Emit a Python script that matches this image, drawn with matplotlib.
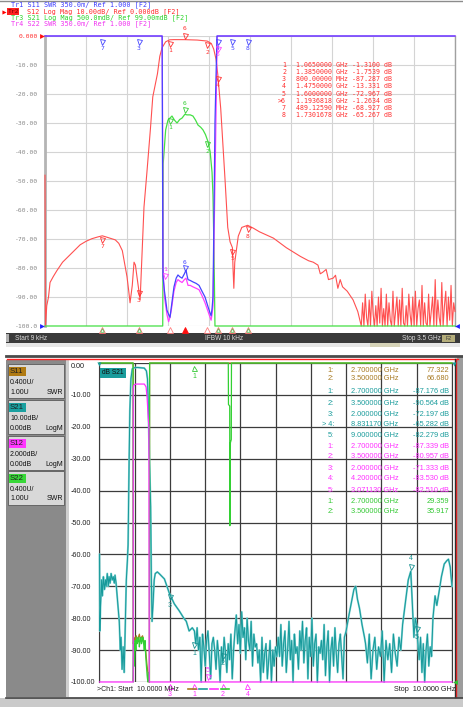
import numpy as np
import matplotlib
matplotlib.use("Agg")
import matplotlib.pyplot as plt
from matplotlib.patches import Rectangle
from matplotlib.transforms import offset_copy

W, H = 464, 707
MONO = "DejaVu Sans Mono"
SANS = "Liberation Sans"

# ======================= TOP ANALYZER DATA =======================
top_start, top_stop = 0.000009, 3.5  # GHz
top_header = [
    ("Tr1 S11 SWR 350.0m/ Ref 1.000 [F2]", "#3c3cff"),
    ("S12 Log Mag 10.00dB/ Ref 0.000dB [F2]", "#ff2a2a"),
    ("Tr3 S21 Log Mag 500.0mdB/ Ref 99.00mdB [F2]", "#2ad42a"),
    ("Tr4 S22 SWR 350.0m/ Ref 1.000 [F2]", "#f032f0"),
]
top_yticks = [0, -10, -20, -30, -40, -50, -60, -70, -80, -90, -100]
top_ylabels = ["0.000", "-10.00", "-20.00", "-30.00", "-40.00", "-50.00",
               "-60.00", "-70.00", "-80.00", "-90.00", "-100.0"]

s12_top_f = [0.000009, 0.004, 0.015, 0.03, 0.043, 0.07, 0.1, 0.15, 0.2, 0.25, 0.3,
             0.35, 0.4, 0.45, 0.489, 0.53, 0.6, 0.63, 0.66, 0.7, 0.715, 0.726,
             0.745, 0.76, 0.772, 0.785, 0.8, 0.812, 0.83, 0.845, 0.87, 0.9, 0.92,
             0.96, 0.98, 1.0, 1.03, 1.065, 1.1, 1.194, 1.3, 1.385, 1.42, 1.44,
             1.46, 1.475, 1.5, 1.52, 1.537, 1.55, 1.56, 1.58, 1.6, 1.605, 1.612,
             1.62, 1.65, 1.68, 1.73, 1.78, 1.83, 1.95, 2.06, 2.18, 2.25, 2.29,
             2.33, 2.35, 2.37, 2.4, 2.42, 2.46, 2.48, 2.5, 2.52, 2.54, 2.58, 2.63, 2.67]
s12_top_db = [-48, -100, -93, -90, -85, -83, -81, -78, -76, -74, -72,
              -70.8, -69.9, -69.3, -68.9, -69.4, -70.3, -71.5, -74, -83, -88, -92,
              -86, -78, -79, -83, -87.3, -91, -74, -59, -47, -32, -21,
              -13, -7, -4, -2, -1.31, -1.25, -1.26, -1.4, -1.75, -2.6, -4.5,
              -8, -13.3, -25, -38, -49.6, -59, -66, -71, -73, -80, -87,
              -78, -69, -66, -65.27, -66.3, -67.5, -69.7, -73, -76, -77.5, -78,
              -79, -82, -81.5, -80.5, -84, -83.5, -82.5, -87, -84, -86.5, -88, -91, -95]
s12_top_noise_db = [-100, -92, -100, -89, -97, -100, -91, -100, -88, -96, -100, -93,
                    -100, -90, -99, -87, -100, -94, -100, -89, -100, -92, -98, -100,
                    -88, -100, -95, -90, -100, -91, -100, -87, -99, -100, -93, -100,
                    -89, -96, -100, -90, -100, -88, -100, -94, -91, -100, -86, -100,
                    -92, -99, -100, -89, -100, -95, -90, -100, -84, -100, -91, -97,
                    -100, -85, -100, -93, -88, -100, -90, -98, -86, -100, -92, -95]

s21_top_f = [0.000009, 1.005, 1.007, 1.009, 1.03, 1.05, 1.084, 1.105, 1.127, 1.15,
             1.17, 1.194, 1.212, 1.24, 1.263, 1.285, 1.306, 1.33, 1.349, 1.37,
             1.392, 1.41, 1.426, 1.434, 1.443, 1.451, 3.5]
s21_top_db = [-100, -100, -80, -44, -32.4, -29, -27.6, -29, -30, -28.8,
              -28.3, -27, -27.2, -27.2, -27.6, -29, -30.7, -31.5, -32.4, -34,
              -36.5, -40, -47, -55, -75, -100, -100]

s11_top_f = [0.000009, 1.0, 1.003, 1.007, 1.02, 1.03, 1.041, 1.055, 1.067, 1.08,
             1.101, 1.12, 1.135, 1.15, 1.17, 1.19, 1.204, 1.212, 1.221, 1.24,
             1.263, 1.29, 1.315, 1.34, 1.366, 1.392, 1.409, 1.418, 1.426, 1.434,
             1.443, 1.451, 1.468, 3.5]
s11_top_db = [0, 0, -40, -83, -88, -91, -94.5, -96, -97, -93,
              -86.5, -83.5, -82.4, -83, -83.5, -82, -80.7, -82.5, -84, -84.3,
              -84.8, -85.3, -86, -88, -90, -93.4, -95.5, -96.5, -94, -90,
              -60, -30, 0, 0]

s22_top_f = [0.000009, 1.0, 1.004, 1.007, 1.02, 1.041, 1.055, 1.067, 1.08, 1.101,
             1.12, 1.135, 1.15, 1.17, 1.19, 1.204, 1.221, 1.24, 1.263, 1.29,
             1.315, 1.34, 1.366, 1.392, 1.409, 1.418, 1.426, 1.434, 1.443, 1.455,
             1.47, 3.5]
s22_top_db = [0, 0, -30, -80, -90, -96, -98.5, -97, -94, -88,
              -85, -84, -84.5, -85, -84, -83.5, -86, -86, -86.5, -87,
              -87.5, -89.5, -92, -95, -97, -98, -96, -93, -70, -40,
              0, 0]

top_mk_no = ["1", "2", "3", "4", "5", ">6", "7", "8"]
top_mk_f = [1.065, 1.385, 0.8, 1.475, 1.6, 1.1936818, 0.4891259, 1.7301678]
top_mk_db = [-1.31, -1.7539, -87.287, -13.331, -72.967, -1.2634, -68.927, -65.267]
top_mk_text = ["1.0650000 GHz -1.3100 dB", "1.3850000 GHz -1.7539 dB",
               "800.00000 MHz -87.287 dB", "1.4750000 GHz -13.331 dB",
               "1.6000000 GHz -72.967 dB", "1.1936818 GHz -1.2634 dB",
               "489.12590 MHz -68.927 dB", "1.7301678 GHz -65.267 dB"]

# ======================= BOTTOM ANALYZER DATA =======================
bot_start, bot_stop = 0.01, 10.0  # GHz
bot_yticks = [0, -10, -20, -30, -40, -50, -60, -70, -80, -90, -100]
bot_ylabels = ["0.00", "-10.00", "-20.00", "-30.00", "-40.00", "-50.00",
               "-60.00", "-70.00", "-80.00", "-90.00", "-100.00"]

s21_bot_f1 = [0.01, 0.02, 0.04, 0.07, 0.09, 0.12, 0.15, 0.18, 0.2, 0.23, 0.26, 0.28,
              0.31, 0.34, 0.37, 0.4, 0.43, 0.45, 0.48, 0.51, 0.54, 0.57, 0.6, 0.62,
              0.65, 0.68, 0.71, 0.74, 0.77, 0.8, 0.82, 0.85, 0.87, 0.9, 0.94, 0.99,
              1.08, 1.19, 1.28, 1.34, 1.37, 1.39, 1.42, 1.46, 1.48, 1.5, 1.53, 1.56,
              1.59, 1.65, 1.7, 1.85, 1.99, 2.13, 2.27, 2.4, 2.47, 2.55, 2.64]
s21_bot_db1 = [-60, -84, -76, -68, -73, -67, -71, -68, -70, -66, -70, -67,
               -69, -66, -68, -67, -69, -66.5, -69, -73, -77, -81, -90, -86,
               -96, -89, -97, -82, -68, -62, -57, -30, -15, -5, -1.8, -1.5,
               -1.4, -1.5, -1.6, -2.5, -5, -12, -28, -45, -68, -81, -75, -68,
               -66, -65.5, -66, -67.7, -72.2, -75.5, -77.7, -80, -81, -84, -83]
s21_bot_noise1 = [-84, -88, -83, -90, -86, -100, -85, -89, -95, -87, -84, -91, -99, -88, -86,
                  -90, -96, -87, -92, -100, -89, -94, -86, -91, -97, -88, -93, -85, -99, -90,
                  -84, -79, -88, -82, -91, -78, -86, -83, -93, -80, -87, -90, -81, -95, -85, -89,
                  -88, -94, -90, -100, -86, -97, -91, -88, -99, -93, -87, -100, -90, -95, -89, -92,
                  -86, -92, -82, -95, -88, -84, -97, -90, -81, -93, -87, -100, -85, -91, -89, -96,
                  -84, -90, -81, -94, -87, -83, -99, -86, -92, -80, -95, -88, -85, -100, -89, -91,
                  -87, -93, -82, -98, -89, -84, -100, -90, -86, -95, -83, -91, -97, -88, -85, -92, -99, -86]
s21_bot_f2 = [7.0, 7.08, 7.15, 7.22, 7.27, 7.32, 7.38, 7.45, 7.52]
s21_bot_db2 = [-84, -79, -75, -71, -70, -74, -77, -82, -86]
s21_bot_noise2 = [-88, -94, -85, -99, -90, -86, -96, -89, -92, -84,
                  -100, -87, -93, -88, -97, -85, -91, -95, -86, -90]
s21_bot_f3 = [8.6, 8.68, 8.76, 8.83117, 8.87, 8.92, 8.96, 9.0, 9.04]
s21_bot_db3 = [-82, -75, -68, -65.282, -74, -86, -80, -82.279, -89]
s21_bot_noise3 = [-93, -86, -97, -88, -100, -90, -85, -95, -89, -92]
s21_bot_f4 = [9.46, 9.52, 9.57, 9.63, 9.7, 9.78, 9.85, 9.9, 9.95, 10.0]
s21_bot_db4 = [-80, -73, -76, -72, -67, -63, -62, -61.5, -64, -70]

s12_bot_f = [0.01, 0.965, 0.966, 0.98, 1.0, 1.05, 1.28, 1.33, 1.36, 1.39, 1.41, 1.42, 10.0]
s12_bot_db = [-100, -100, -8, -7, -6.8, -6.6, -6.6, -7.5, -11, -17, -20, -100, -100]

s22_bot_f = [0.01, 0.96, 0.965, 0.975, 0.99, 1.0, 1.02, 1.04, 1.06, 1.08, 1.1, 1.12, 1.14,
             1.16, 1.18, 1.2, 1.22, 1.24, 1.26, 1.28, 1.3, 1.32, 1.34, 1.36, 1.38, 1.4,
             1.42, 1.425, 1.43, 3.66, 3.665, 3.70, 3.705, 3.72, 3.745, 3.75, 10.0]
s22_bot_db = [0, 0, -100, -92, -88, -95, -87, -90, -86, -88, -87, -86, -89,
              -87, -86, -88, -87, -86, -88, -90, -87, -92, -95, -98, -100, -97,
              -100, -100, 0, 0, -13, -13.5, -51, -25, -24, 0, 0]

s11_bot_f = [0.01, 0.965, 0.967, 0.99, 1.02, 1.05, 1.08, 1.11, 1.14, 1.17, 1.2, 1.23,
             1.26, 1.29, 1.32, 1.35, 1.38, 1.41, 1.425, 1.43, 10.0]
s11_bot_db = [0, 0, -88, -86, -87, -85.5, -86.5, -86, -85, -87, -86, -85.5,
              -87, -88, -90, -94, -97, -100, -100, 0, 0]

s21_mk = [("1", 2.7, -87.176), ("2", 3.5, -90.564), ("3", 2.0, -72.197),
          ("4", 8.83117, -65.282), ("5", 9.0, -82.279)]
s12_mk = [("1", 2.7, -87.339), ("2", 3.5, -80.957), ("3", 2.0, -71.333),
          ("4", 4.2, -83.530), ("5", 3.07113, -82.510)]

bot_table = [
    ("1:", "2.700000 GHz", "77.322", "#a87a22"),
    ("2:", "3.500000 GHz", "66.680", "#a87a22"),
    ("1:", "2.700000 GHz", "-87.176 dB", "#1a9c9c"),
    ("2:", "3.500000 GHz", "-90.564 dB", "#1a9c9c"),
    ("3:", "2.000000 GHz", "-72.197 dB", "#1a9c9c"),
    ("> 4:", "8.831170 GHz", "-65.282 dB", "#1a9c9c"),
    ("5:", "9.000000 GHz", "-82.279 dB", "#1a9c9c"),
    ("1:", "2.700000 GHz", "-87.339 dB", "#ff30ff"),
    ("2:", "3.500000 GHz", "-80.957 dB", "#ff30ff"),
    ("3:", "2.000000 GHz", "-71.333 dB", "#ff30ff"),
    ("4:", "4.200000 GHz", "-83.530 dB", "#ff30ff"),
    ("5:", "3.071130 GHz", "-82.510 dB", "#ff30ff"),
    ("1:", "2.700000 GHz", "29.359", "#33c833"),
    ("2:", "3.500000 GHz", "35.917", "#33c833"),
]
bot_table_y = [370, 379, 391.7, 403.3, 414.3, 425, 435.5, 446, 457, 468, 479, 490, 501.5, 511.7]

panel = [("S11", "#b07a12", "0.400U/", "1.00U", "SWR"),
         ("S21", "#1aa0a0", "10.00dB/", "0.00dB", "LogM"),
         ("S12", "#ff36ff", "2.000dB/", "0.00dB", "LogM"),
         ("S22", "#38d838", "0.400U/", "1.00U", "SWR")]

# ======================= FIGURE =======================
fig = plt.figure(figsize=(W / 100, H / 100), dpi=100)
fig.patch.set_facecolor("white")
bg = fig.add_axes([0, 0, 1, 1], zorder=0)
bg.set_xlim(0, W); bg.set_ylim(H, 0); bg.axis("off")
fg = fig.add_axes([0, 0, 1, 1], zorder=10)
fg.set_xlim(0, W); fg.set_ylim(H, 0); fg.axis("off"); fg.patch.set_alpha(0)


def pax(x0, y0, x1, y1, z=2):
    return fig.add_axes([x0 / W, 1 - y1 / H, (x1 - x0) / W, (y1 - y0) / H], zorder=z)


def rect(a, x0, y0, x1, y1, fc, ec="none", lw=0, z=1):
    a.add_patch(Rectangle((x0, y0), x1 - x0, y1 - y0, fc=fc, ec=ec, lw=lw, zorder=z))


def mark(ax, f, v, label, color, tri_dy, txt_dy, tri="v", filled=False, fs=4.6,
         family=MONO, ms=3.6):
    tr = offset_copy(ax.transData, fig=fig, x=0, y=tri_dy, units="dots")
    ax.plot([f], [v], marker=tri, ms=ms, mec=color, mew=0.6,
            mfc=color if filled else "none", transform=tr, clip_on=False, zorder=6)
    if label:
        ax.annotate(label, (f, v), xytext=(0, txt_dy), textcoords="offset pixels",
                    ha="center", va="center", fontsize=fs, color=color,
                    family=family, annotation_clip=False, zorder=6)


# ---------------- top header / frame ----------------
bg.plot([0, W], [0.5, 0.5], color="#8c8c8c", lw=1)
row_y = [5, 11.5, 17.5, 24]
row_x = [11, 27, 11, 11]
for (txt, col), y, x in zip(top_header, row_y, row_x):
    fg.text(x, y, txt, color=col, family=MONO, fontsize=4.9, va="center", ha="left")
rect(bg, 7.5, 8, 19.5, 15, "#ff2020")
fg.text(13.5, 11.5, "Tr2", color="#7a0000", family=MONO, fontsize=4.6, va="center", ha="center")
fg.plot([4.5], [11.5], marker=">", ms=3, color="#ff0000", mec="none")

# ---------------- top plot ----------------
ax1 = pax(45, 36, 455, 326)
ax1.set_xlim(top_start, top_stop)
ax1.set_ylim(-100, 0)
ax1.set_xticks(np.linspace(top_start, top_stop, 11))
ax1.set_yticks(top_yticks)
ax1.set_yticklabels(top_ylabels, family=MONO, fontsize=4.6, color="#8a8a8a")
ax1.get_yticklabels()[0].set_color("#ff3030")
ax1.tick_params(length=0, labelbottom=False, pad=5)
ax1.grid(True, color="#d4d4d4", lw=0.8)
ax1.set_axisbelow(True)
for s in ("top", "bottom"):
    ax1.spines[s].set_visible(False)
ax1.spines["left"].set_color("#b4b4b4"); ax1.spines["left"].set_linewidth(2)
ax1.spines["right"].set_color("#a0a0a0"); ax1.spines["right"].set_linewidth(1)

noise_f_top = np.linspace(2.7, top_stop, len(s12_top_noise_db))
ax1.plot(list(s12_top_f) + list(noise_f_top), list(s12_top_db) + list(s12_top_noise_db),
         color="#ff5050", lw=0.8, clip_on=False, zorder=3)
ax1.plot(s21_top_f, s21_top_db, color="#44e044", lw=0.9, clip_on=False, zorder=3)
ax1.plot(s22_top_f, s22_top_db, color="#ff40ff", lw=0.9, clip_on=False, zorder=3)
ax1.plot(s11_top_f, s11_top_db, color="#4444ff", lw=0.9, clip_on=False, zorder=4)

# red (active trace) markers
for no, f, v in zip(top_mk_no, top_mk_f, top_mk_db):
    n = no.replace(">", "")
    if no.startswith(">"):
        mark(ax1, f, v, n, "#ff3030", 4, 11)
    else:
        mark(ax1, f, v, n, "#ff3030", -4, -11)
# S11 markers near the top line (S11 sits at the 0 line outside the passband)
for no, f in zip(top_mk_no, top_mk_f):
    n = no.replace(">", "")
    if n in ("3", "4", "5", "7", "8"):
        mark(ax1, f, 0, n, "#4444ff", -6, -12)
mark(ax1, 1.1936818, -81.5, "6", "#4444ff", 4, 10)
mark(ax1, 1.024, -84, "1", "#ff40ff", 4, 10)
mark(ax1, 1.475, -3, "5", "#ff40ff", -4, -10)
# S21 markers
mark(ax1, 1.065, -27.8, "1", "#33cc33", -4, -11)
mark(ax1, 1.1936818, -27, "6", "#33cc33", 4, 11)
mark(ax1, 1.385, -36, "2", "#33cc33", -4, -11)
# marker ticks under the x axis
for no, f in zip(top_mk_no, top_mk_f):
    if no.startswith(">"):
        mark(ax1, f, -100, None, "#ff1010", -4, 0, tri="^", filled=True, ms=4)
    elif no in ("1", "2"):
        mark(ax1, f, -100, None, "#ff8080", -4, 0, tri="^", ms=4.2)
    else:
        mark(ax1, f, -100, None, "#ff7070", -4, 0, tri="^", ms=4.2)
        mark(ax1, f, -100, None, "#60c060", -4.5, 0, tri="^", ms=2.6)

# reference arrows
fg.plot([42], [36], marker=">", ms=3.5, color="#ff1010", mec="none")
fg.plot([42], [326], marker=">", ms=3.5, color="#2020ff", mec="none")
fg.plot([457.5], [326], marker="<", ms=3.5, color="#2020ff", mec="none")

# marker table (top)
for i, (no, txt) in enumerate(zip(top_mk_no, top_mk_text)):
    y = 65 + i * 7.15
    fg.text(286, y, no, color="#ff3030", family=MONO, fontsize=4.8, ha="right", va="center")
    fg.text(296, y, txt, color="#ff3030", family=MONO, fontsize=4.8, ha="left", va="center")

# status bar (top)
rect(bg, 6, 333, 460, 343, "#3a3a3a")
rect(bg, 6, 334, 9, 342, "#b0b0b0", z=2)
fg.text(15, 338, "Start 9 kHz", color="#dcdcdc", family=SANS, fontsize=4.7, va="center")
fg.text(205, 338, "IFBW 10 kHz", color="#dcdcdc", family=SANS, fontsize=4.7, va="center")
fg.text(402, 338, "Stop 3.5 GHz", color="#dcdcdc", family=SANS, fontsize=4.7, va="center")
rect(bg, 442, 334.5, 455, 341.5, "#b4ad7a", z=2)
fg.text(448.5, 338, "F2", color="#3a3a3a", family=SANS, fontsize=3.8, va="center", ha="center")
rect(bg, 6, 343, 460, 347, "#e6e6e6")
rect(bg, 370, 343, 400, 347, "#d6d3b8", z=2)

# ======================= BOTTOM WINDOW =======================
bg.plot([6, W], [356, 356], color="#4a4a4a", lw=2)
bg.plot([7, 458], [359, 359], color="#ff2020", lw=1)
rect(bg, 6, 360, 66, 697, "#8a8a8a")
rect(bg, 66, 360, 69, 697, "#cfcfcf")
rect(bg, 457.5, 357, W, 707, "#9c9c9c")
bg.plot([456.5, 456.5], [359, 697], color="#ff2020", lw=1)
bg.plot([455, 455], [359, 697], color="#303030", lw=1)
bg.plot([6, W], [697.5, 697.5], color="#404040", lw=1.2)
rect(bg, 0, 698, W, 707, "#cacaca")

box_tops = [364, 400, 436, 471]
for (lab, col, l1, l2, l3), yt in zip(panel, box_tops):
    rect(bg, 8, yt, 64, yt + 34, "#d8d8d8", ec="#5a5a5a", lw=0.6, z=2)
    rect(bg, 9.5, yt + 3, 26, yt + 12, col, z=3)
    fg.text(10, yt + 7.8, lab, color="#202020", family=SANS, fontsize=5.6, va="center")
    fg.text(10, yt + 18.5, l1, color="#101010", family=SANS, fontsize=5.0, va="center")
    fg.text(10, yt + 28, l2, color="#101010", family=SANS, fontsize=5.0, va="center")
    fg.text(63, yt + 28, l3, color="#101010", family=SANS, fontsize=5.0, va="center", ha="right")

ax2 = pax(99.5, 363, 452, 682)
ax2.set_xlim(bot_start, bot_stop)
ax2.set_ylim(-100, 0)
ax2.set_xticks(np.linspace(bot_start, bot_stop, 11))
ax2.set_yticks(bot_yticks)
ax2.set_yticklabels(bot_ylabels, family=SANS, fontsize=5.2, color="#202020")
ax2.tick_params(length=0, labelbottom=False)
ax2.tick_params(axis="y", pad=20.5)
for lbl in ax2.get_yticklabels():
    lbl.set_horizontalalignment("left")
ax2.get_yticklabels()[0].set_verticalalignment("top")
ax2.grid(True, color="#3c3c3c", lw=0.9)
ax2.set_axisbelow(True)
for s in ("top", "bottom"):
    ax2.spines[s].set_visible(False)
for s in ("left", "right"):
    ax2.spines[s].set_color("#3c3c3c")

f_n1 = np.linspace(2.7, 6.95, len(s21_bot_noise1))
f_n2 = np.linspace(7.55, 8.55, len(s21_bot_noise2))
f_n3 = np.linspace(9.07, 9.42, len(s21_bot_noise3))
s21_f = list(s21_bot_f1) + list(f_n1) + s21_bot_f2 + list(f_n2) + s21_bot_f3 + list(f_n3) + s21_bot_f4
s21_v = s21_bot_db1 + s21_bot_noise1 + s21_bot_db2 + s21_bot_noise2 + s21_bot_db3 + s21_bot_noise3 + s21_bot_db4

ax2.plot(s11_bot_f, s11_bot_db, color="#a87a22", lw=0.9, clip_on=False, zorder=3)
ax2.plot(s21_f, s21_v, color="#7fd2d2", lw=1.4, clip_on=False, zorder=3)
ax2.plot(s21_f, s21_v, color="#16999a", lw=0.7, clip_on=False, zorder=3)
ax2.plot(s22_bot_f, s22_bot_db, color="#33d033", lw=0.9, clip_on=False, zorder=4)
ax2.plot(s12_bot_f, s12_bot_db, color="#ff30ff", lw=0.9, clip_on=False, zorder=5)

# S21 markers
for n, f, v in s21_mk:
    if n == "4":
        mark(ax2, f, v, n, "#168f8f", 4, 13, family=SANS, fs=5)
    else:
        mark(ax2, f, v, n, "#168f8f", -4, -12, family=SANS, fs=5)
# S12 markers (off scale -> pinned at bottom edge)
for n, f, v in s12_mk:
    disp = float(np.clip(v * 5, -100, 0))
    if n == "5":
        mark(ax2, f, disp, n, "#ff30ff", 5, 12, family=SANS, fs=5)
    else:
        mark(ax2, f, disp, n, "#ff30ff", -4, -12.5, tri="^", family=SANS, fs=5)
# S22 marker 1 (SWR off scale -> pinned at top)
mark(ax2, 2.7, 0, "1", "#33c833", -5, -14, tri="^", family=SANS, fs=5)

# "dB S21" tag
rect(fg, 100, 368, 126, 377.5, "#1a9c9c")
fg.text(113, 372.8, "dB S21", color="#101010", family=SANS, fontsize=4.8, ha="center", va="center")
fg.plot([99], [364], marker="v", ms=3, color="#1a9c9c", mec="none")
fg.plot([454], [364], marker="v", ms=3, color="#1a9c9c", mec="none")
fg.plot([455], [682], marker="<", ms=3.5, color="#30c030", mec="none")

# marker table (bottom)
for (no, fr, val, col), y in zip(bot_table, bot_table_y):
    fg.text(334, y, no, color=col, family=SANS, fontsize=5.3, ha="right", va="center")
    fg.text(351, y, fr, color=col, family=SANS, fontsize=5.3, ha="left", va="center")
    fg.text(449, y, val, color=col, family=SANS, fontsize=5.3, ha="right", va="center")

# status line (bottom)
fg.text(97, 689.5, ">Ch1: Start  10.0000 MHz", color="#202020", family=SANS, fontsize=5.0, va="center")
fg.text(455, 689.5, "Stop  10.0000 GHz", color="#202020", family=SANS, fontsize=5.2, va="center", ha="right")
for x0, col in zip([188, 199, 210, 221], ["#a87a22", "#1a9c9c", "#ff30ff", "#33d033"]):
    fg.plot([x0, x0 + 8], [689, 689], color=col, lw=1.2)

fig.savefig("out.png", dpi=100, facecolor="white")
